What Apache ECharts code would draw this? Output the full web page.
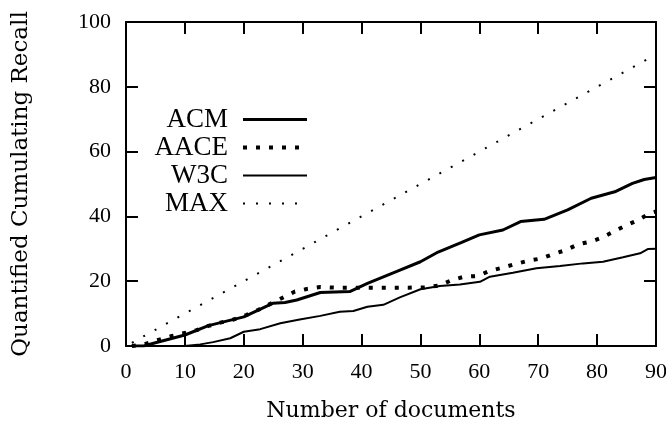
<!DOCTYPE html>
<html>
<head>
<meta charset="utf-8">
<script src="https://cdn.jsdelivr.net/npm/echarts@6/dist/echarts.min.js"></script>
<style>
  html, body { margin: 0; padding: 0; background: #fff; }
  #chart { width: 666px; height: 423px; }
</style>
</head>
<body>
<div id="chart"></div>
<script>
// values (documents -> recall)
var acmX  = [1, 3, 5, 10, 14, 20, 25, 27, 29, 33, 38, 41, 46, 50, 53, 57, 60, 64, 67, 71, 75, 79, 83, 86, 88, 90];
var acmY  = [0, 0, 1, 3.4, 6.3, 9, 13.2, 13.4, 14.2, 16.5, 16.8, 19.3, 23, 26, 29, 32, 34.3, 35.8, 38.4, 39.1, 42, 45.6, 47.6, 50.2, 51.4, 52];
var aaceX = [1, 3, 5.5, 7.8, 12, 14, 16, 18.3, 20.5, 22.5, 24.5, 26.6, 28.7, 30.7, 33, 36, 40, 44, 48, 51, 53.2, 55.4, 57.5, 59.7, 61.8, 64, 66.1, 68.3, 70.5, 72.6, 74.7, 76.8, 78.9, 80.9, 83, 85, 87, 89, 90];
var aaceY = [0, 0.5, 1.9, 3.1, 4.9, 6.2, 7.2, 8.2, 9.6, 11.2, 13, 14.9, 16.8, 17.6, 18.2, 18, 18, 18, 18, 18.1, 18.7, 20.4, 21.4, 21.6, 23.2, 24.2, 25.3, 26.3, 27, 28.4, 29.6, 31.4, 32.2, 33.5, 35.5, 37.3, 38.9, 41, 41.5];
var w3cX  = [1, 10, 12.6, 14.8, 17.7, 20, 22.8, 26.2, 29.5, 33, 36.3, 38.6, 41, 43.7, 46.5, 50, 53.3, 56.7, 60.1, 61.8, 65.7, 69.7, 73.7, 77.6, 81, 84.4, 87.3, 88.6, 90];
var w3cY  = [0, 0, 0.5, 1.2, 2.4, 4.4, 5.2, 7, 8.2, 9.3, 10.6, 10.8, 12.1, 12.7, 15, 17.5, 18.5, 19, 19.8, 21.4, 22.6, 24, 24.7, 25.5, 26, 27.4, 28.6, 29.9, 30];
var maxX  = [1, 90];
var maxY  = [1, 90];
var xTicks = [0, 10, 20, 30, 40, 50, 60, 70, 80, 90];
var yTicks = [0, 20, 40, 60, 80, 100];

function pairs(xs, ys) {
  return xs.map(function (x, i) { return [x, ys[i]]; });
}

var font = '"Liberation Serif", "DejaVu Serif", serif';
var titleFont = '"DejaVu Serif", serif';
var axisLine = { onZero: false, lineStyle: { color: '#000', width: 2 } };
var axisTick = { inside: true, length: 12, lineStyle: { color: '#000', width: 2 } };
var noMark = { color: 'rgba(0,0,0,0)', borderWidth: 0, opacity: 0 };

var chart = echarts.init(document.getElementById('chart'));
chart.setOption({
  animation: false,
  backgroundColor: '#fff',
  textStyle: { fontFamily: font, color: '#000' },
  grid: { left: 126, right: 10, top: 22, bottom: 77, outerBoundsMode: 'none', containLabel: false },
  legend: {
    orient: 'vertical',
    left: 133,
    top: 101,
    align: 'right',
    itemWidth: 64,
    itemHeight: 25,
    itemGap: 1,
    itemStyle: noMark,
    textStyle: { fontFamily: font, fontSize: 27, color: '#000', width: 90, align: 'right', padding: [0, 10, 0, 0], lineHeight: 25 },
    data: [
      { name: 'ACM', itemStyle: noMark, lineStyle: { width: 3, type: 'solid' } },
      { name: 'AACE', itemStyle: noMark, lineStyle: { width: 4, type: [4, 9], cap: 'butt' } },
      { name: 'W3C', itemStyle: noMark, lineStyle: { width: 2, type: 'solid' } },
      { name: 'MAX', itemStyle: noMark, lineStyle: { width: 2, type: [2, 11], cap: 'butt' } }
    ]
  },
  xAxis: [{
    type: 'value', min: 0, max: 90, interval: 10,
    name: 'Number of documents', nameLocation: 'middle', nameGap: 54,
    nameTextStyle: { fontFamily: titleFont, fontSize: 22, color: '#000' },
    axisLine: axisLine, axisTick: axisTick, splitLine: { show: false },
    axisLabel: { fontFamily: font, fontSize: 22, color: '#000', margin: 15,
      formatter: function (v) { return xTicks.indexOf(v) >= 0 ? String(v) : ''; } }
  }, {
    type: 'value', position: 'top', min: 0, max: 90, interval: 10,
    axisLine: axisLine, axisTick: axisTick, splitLine: { show: false }, axisLabel: { show: false }
  }],
  yAxis: [{
    type: 'value', min: 0, max: 100, interval: 20,
    name: 'Quantified Cumulating Recall', nameLocation: 'middle', nameGap: 93,
    nameTextStyle: { fontFamily: titleFont, fontSize: 23, color: '#000' },
    axisLine: axisLine, axisTick: axisTick, splitLine: { show: false },
    axisLabel: { fontFamily: font, fontSize: 22, color: '#000', margin: 15,
      formatter: function (v) { return yTicks.indexOf(v) >= 0 ? String(v) : ''; } }
  }, {
    type: 'value', position: 'right', min: 0, max: 100, interval: 20,
    axisLine: axisLine, axisTick: axisTick, splitLine: { show: false }, axisLabel: { show: false }
  }],
  series: [
    { name: 'ACM', type: 'line', data: pairs(acmX, acmY), symbol: 'none', color: '#000',
      lineStyle: { color: '#000', width: 3 } },
    { name: 'AACE', type: 'line', data: pairs(aaceX, aaceY), symbol: 'none', color: '#000',
      lineStyle: { color: '#000', width: 4, type: [4, 9], cap: 'butt' } },
    { name: 'W3C', type: 'line', data: pairs(w3cX, w3cY), symbol: 'none', color: '#000',
      lineStyle: { color: '#000', width: 2 } },
    { name: 'MAX', type: 'line', data: pairs(maxX, maxY), symbol: 'none', color: '#000',
      lineStyle: { color: '#000', width: 2, type: [2, 11], cap: 'butt' } }
  ]
});
</script>
</body>
</html>
